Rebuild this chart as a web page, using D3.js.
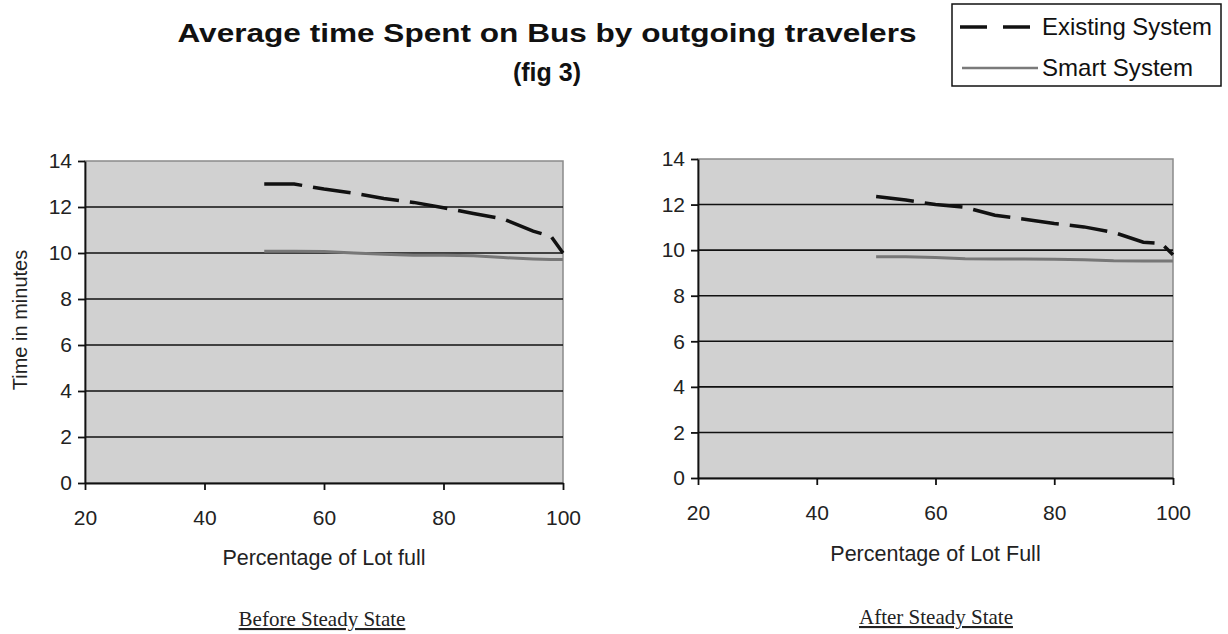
<!DOCTYPE html>
<html>
<head>
<meta charset="utf-8">
<script src="https://cdn.jsdelivr.net/npm/d3@7"></script>
<style>
  html, body { margin: 0; padding: 0; background: #fff; }
  svg { display: block; }
</style>
</head>
<body>
<svg id="chart" width="1228" height="634"></svg>
<script>
// ---- data ----
const titleLine1 = "Average time Spent on Bus by outgoing travelers";
const titleLine2 = "(fig 3)";
const seriesNames = ["Existing System", "Smart System"];
const xPercent = [50, 55, 60, 65, 70, 75, 80, 85, 90, 95, 98, 100];
const beforeExisting = [13.0, 13.0, 12.78, 12.6, 12.37, 12.2, 11.97, 11.72, 11.48, 10.95, 10.72, 10.0];
const beforeSmart    = [10.08, 10.08, 10.06, 10.0, 9.95, 9.9, 9.9, 9.88, 9.8, 9.74, 9.72, 9.72];
const afterExisting  = [12.35, 12.2, 12.0, 11.88, 11.53, 11.36, 11.17, 11.02, 10.78, 10.35, 10.3, 9.8];
const afterSmart     = [9.71, 9.71, 9.68, 9.62, 9.61, 9.61, 9.6, 9.58, 9.53, 9.52, 9.52, 9.52];
const xTicks = [20, 40, 60, 80, 100];
const yTicks = [0, 2, 4, 6, 8, 10, 12, 14];
const yAxisTitle = "Time in minutes";
const xTitleBefore = "Percentage of Lot full";
const xTitleAfter = "Percentage of Lot Full";
const captionBefore = "Before Steady State";
const captionAfter = "After Steady State";

const svg = d3.select("#chart");
const SANS = "'Liberation Sans', Arial, sans-serif";
const SERIF = "'Liberation Serif', 'Times New Roman', serif";

// title
svg.append("text").attr("x", 547).attr("y", 42).attr("text-anchor", "middle")
  .attr("font-family", SANS).attr("font-weight", "bold").attr("font-size", 25)
  .attr("textLength", 739).attr("lengthAdjust", "spacingAndGlyphs")
  .attr("fill", "#111").text(titleLine1);
svg.append("text").attr("x", 547).attr("y", 81).attr("text-anchor", "middle")
  .attr("font-family", SANS).attr("font-weight", "bold").attr("font-size", 25)
  .attr("fill", "#111").text(titleLine2);

// legend
const lg = svg.append("g");
lg.append("rect").attr("x", 952).attr("y", 4).attr("width", 269).attr("height", 82)
  .attr("fill", "#fff").attr("stroke", "#111").attr("stroke-width", 1.5);
lg.append("line").attr("x1", 960).attr("x2", 1034).attr("y1", 27).attr("y2", 27)
  .attr("stroke", "#111").attr("stroke-width", 3.5).attr("stroke-dasharray", "27,16");
lg.append("text").attr("x", 1042).attr("y", 35).attr("font-family", SANS).attr("font-size", 24)
  .attr("textLength", 170).attr("lengthAdjust", "spacingAndGlyphs")
  .attr("fill", "#111").text(seriesNames[0]);
lg.append("line").attr("x1", 962).attr("x2", 1038).attr("y1", 68).attr("y2", 68)
  .attr("stroke", "#7a7a7a").attr("stroke-width", 2.5);
lg.append("text").attr("x", 1042).attr("y", 76).attr("font-family", SANS).attr("font-size", 24)
  .attr("textLength", 151).attr("lengthAdjust", "spacingAndGlyphs")
  .attr("fill", "#111").text(seriesNames[1]);

function panel(cfg) {
  const x = d3.scaleLinear().domain([20, 100]).range([cfg.x0, cfg.x1]);
  const y = d3.scaleLinear().domain([0, 14]).range([cfg.y0, cfg.y1]);
  const g = svg.append("g");
  // plot area
  g.append("rect").attr("x", cfg.x0).attr("y", cfg.y1)
    .attr("width", cfg.x1 - cfg.x0).attr("height", cfg.y0 - cfg.y1)
    .attr("fill", "#d1d1d1").attr("stroke", "#8a8a8a").attr("stroke-width", 1.5);
  // gridlines
  g.selectAll("line.grid").data(yTicks.filter(v => v > 0 && v < 14)).enter()
    .append("line").attr("class", "grid")
    .attr("x1", cfg.x0).attr("x2", cfg.x1)
    .attr("y1", d => y(d)).attr("y2", d => y(d))
    .attr("stroke", "#111").attr("stroke-width", 1.6);
  // axes
  const ya = g.append("g").attr("transform", `translate(${cfg.x0},0)`)
    .call(d3.axisLeft(y).tickValues(yTicks).tickSize(7).tickPadding(6).tickSizeOuter(0));
  const xa = g.append("g").attr("transform", `translate(0,${cfg.y0})`)
    .call(d3.axisBottom(x).tickValues(xTicks).tickSize(7).tickPadding(20).tickSizeOuter(0));
  [ya, xa].forEach(a => {
    a.selectAll("path.domain").attr("stroke", "#111").attr("stroke-width", 1.8);
    a.selectAll(".tick line").attr("stroke", "#111").attr("stroke-width", 1.8);
    a.selectAll(".tick text").attr("font-family", SANS).attr("font-size", 21).attr("fill", "#222");
  });
  // lines
  const line = d3.line().x(d => x(d[0])).y(d => y(d[1]));
  g.append("path").datum(xPercent.map((v, i) => [v, cfg.smart[i]]))
    .attr("d", line).attr("fill", "none").attr("stroke", "#777").attr("stroke-width", 3);
  g.append("path").datum(xPercent.map((v, i) => [v, cfg.existing[i]]))
    .attr("d", line).attr("fill", "none").attr("stroke", "#111").attr("stroke-width", 3.5)
    .attr("stroke-dasharray", "38,11");
  // x title
  g.append("text").attr("x", (cfg.x0 + cfg.x1) / 2).attr("y", cfg.xTitleY).attr("text-anchor", "middle")
    .attr("font-family", SANS).attr("font-size", 21.5).attr("fill", "#222").text(cfg.xTitle);
  // caption
  g.append("text").attr("x", cfg.capX).attr("y", cfg.capY).attr("text-anchor", "middle")
    .attr("font-family", SERIF).attr("font-size", 21).attr("fill", "#222")
    .attr("text-decoration", "underline").text(cfg.caption);
  return g;
}

panel({ x0: 85, x1: 563, y0: 483, y1: 161, existing: beforeExisting, smart: beforeSmart,
  xTitle: xTitleBefore, xTitleY: 565, caption: captionBefore, capX: 322, capY: 626 });
panel({ x0: 698, x1: 1173, y0: 478, y1: 159, existing: afterExisting, smart: afterSmart,
  xTitle: xTitleAfter, xTitleY: 561, caption: captionAfter, capX: 936, capY: 624 });

// y axis title (left only)
svg.append("text").attr("transform", "translate(27,320) rotate(-90)").attr("text-anchor", "middle")
  .attr("font-family", SANS).attr("font-size", 20).attr("fill", "#222").text(yAxisTitle);
</script>
</body>
</html>
